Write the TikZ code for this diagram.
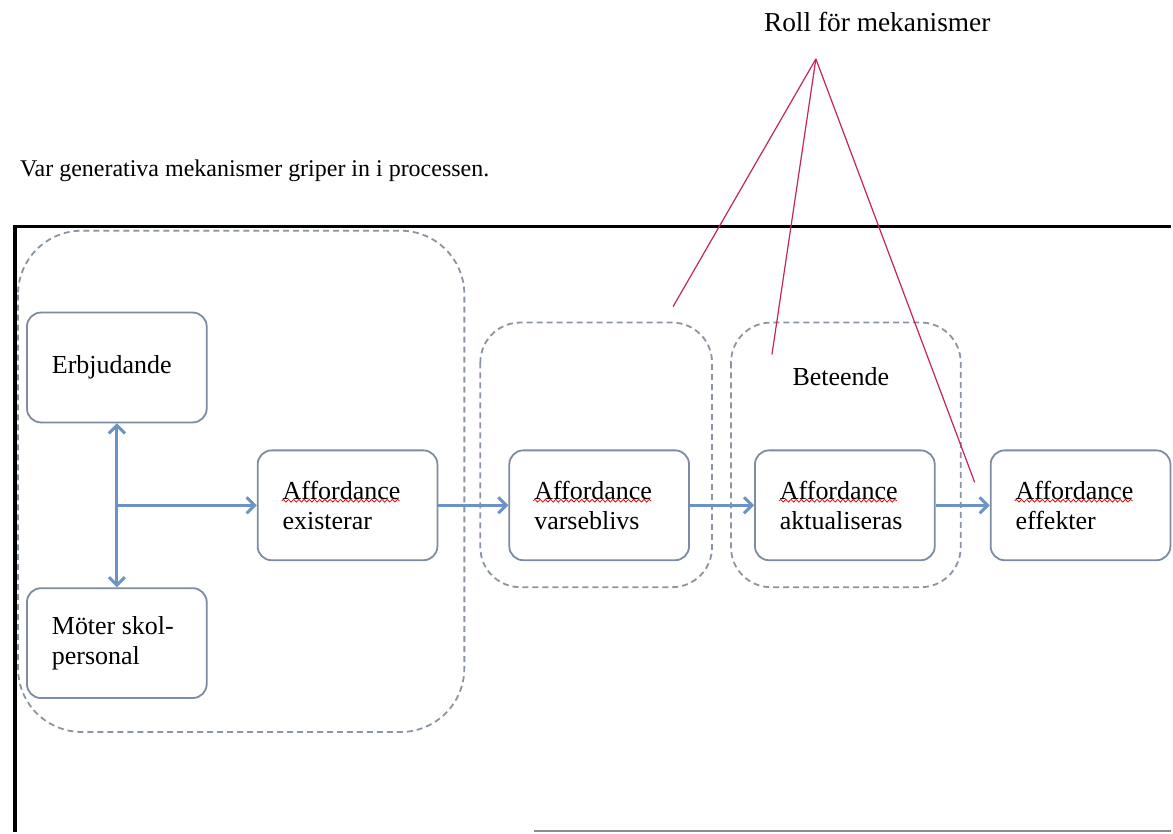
\documentclass[tikz,border=0pt]{standalone}
\usepackage{fontspec}
\setmainfont{Liberation Serif}
\usetikzlibrary{arrows.meta, positioning, decorations.pathmorphing}
\definecolor{flow}   {HTML}{6B93C3}
\definecolor{boxline}{HTML}{7D8CA0}
\definecolor{group}  {HTML}{8A94A2}
\definecolor{mech}   {HTML}{C4245A}

\tikzset{
  stage/.style={draw=boxline, line width=0.9pt, rounded corners=7pt, fill=white,
    minimum width=90pt, minimum height=55pt, text width=65pt, inner xsep=12.5pt,
    align=flush left, font=\fontsize{13}{15}\selectfont},
  groupline/.style={draw=group, line width=0.9pt, dash pattern=on 3pt off 2pt},
  flowarrow/.style={draw=flow, line width=1.5pt, -{Straight Barb[length=4pt, width=8pt]}},
  mechline/.style={draw=mech, line width=0.6pt},
  spellwave/.style={draw=red, line width=0.4pt, decorate,
    decoration={snake, amplitude=0.7pt, segment length=2.6pt}}
}

\begin{document}
\begin{tikzpicture}[x=0.5pt, y=-0.5pt]
    \node[anchor=base west, font=\fontsize{13.7}{16}\selectfont] (roll) at (758, 32)
      {Roll för mekanismer};
    \node[anchor=base west, font=\fontsize{12}{15}\selectfont] (var) at (13, 177)
      {Var generativa mekanismer griper in i processen.};

    % --- frame ---------------------------------------------------------------
    \draw[line width=1.6pt] (15, 833) -- (15, 227) -- (1173, 227);
    \draw[black!45, line width=0.8pt] (535, 832) -- (1173, 832);

    % --- dashed groups -------------------------------------------------------
    \draw[groupline, rounded corners=32pt] (18, 231) rectangle (465, 733);
    \draw[groupline, rounded corners=20pt] (481, 323) rectangle (713, 588);
    \draw[groupline, rounded corners=20pt] (732, 323) rectangle (962, 588);
    \node[font=\fontsize{13}{15}\selectfont] (beteende) at (842, 377) {Beteende};

    % --- stages --------------------------------------------------------------
    \node[stage] (erbj)   at (117, 368)  {Erbjudande};
    \node[stage] (moter)  at (117, 644)  {Möter skol-\\personal};
    \node[stage] (exist)  at (348, 506)  {Affordance\\existerar};
    \node[stage] (varse)  at (600, 506)  {Affordance\\varseblivs};
    \node[stage] (aktu)   at (846, 506)  {Affordance\\aktualiseras};
    \node[stage] (effekt) at (1082, 506) {Affordance\\effekter};

    % spell-check marks under the first word
    \foreach \s in {exist, varse, aktu, effekt}
      \draw[spellwave] ([xshift=12.5pt, yshift=2.3pt]\s.west) -- ++(118, 0);

    % --- flow ----------------------------------------------------------------
    \coordinate (split) at (117, 506);
    \draw[flowarrow, {Straight Barb[length=4pt, width=8pt]}-{Straight Barb[length=4pt, width=8pt]}]
      (erbj) -- (moter);
    \draw[flowarrow] (split) -- (exist);
    \draw[flowarrow] (exist) -- (varse);
    \draw[flowarrow] (varse) -- (aktu);
    \draw[flowarrow] (aktu) -- (effekt);

    % --- role of mechanisms --------------------------------------------------
    \coordinate (apex) at (817, 59);
    \coordinate (tovarse) at (674, 307);
    \coordinate (tobeteende) at (773, 355);
    \coordinate (toeffekt) at (976, 483);
    \draw[mechline] (apex) -- (tovarse);
    \draw[mechline] (apex) -- (tobeteende);
    \draw[mechline] (apex) -- (toeffekt);

    \useasboundingbox (0, 0) rectangle (1173, 833);
  \end{tikzpicture}
\end{document}
